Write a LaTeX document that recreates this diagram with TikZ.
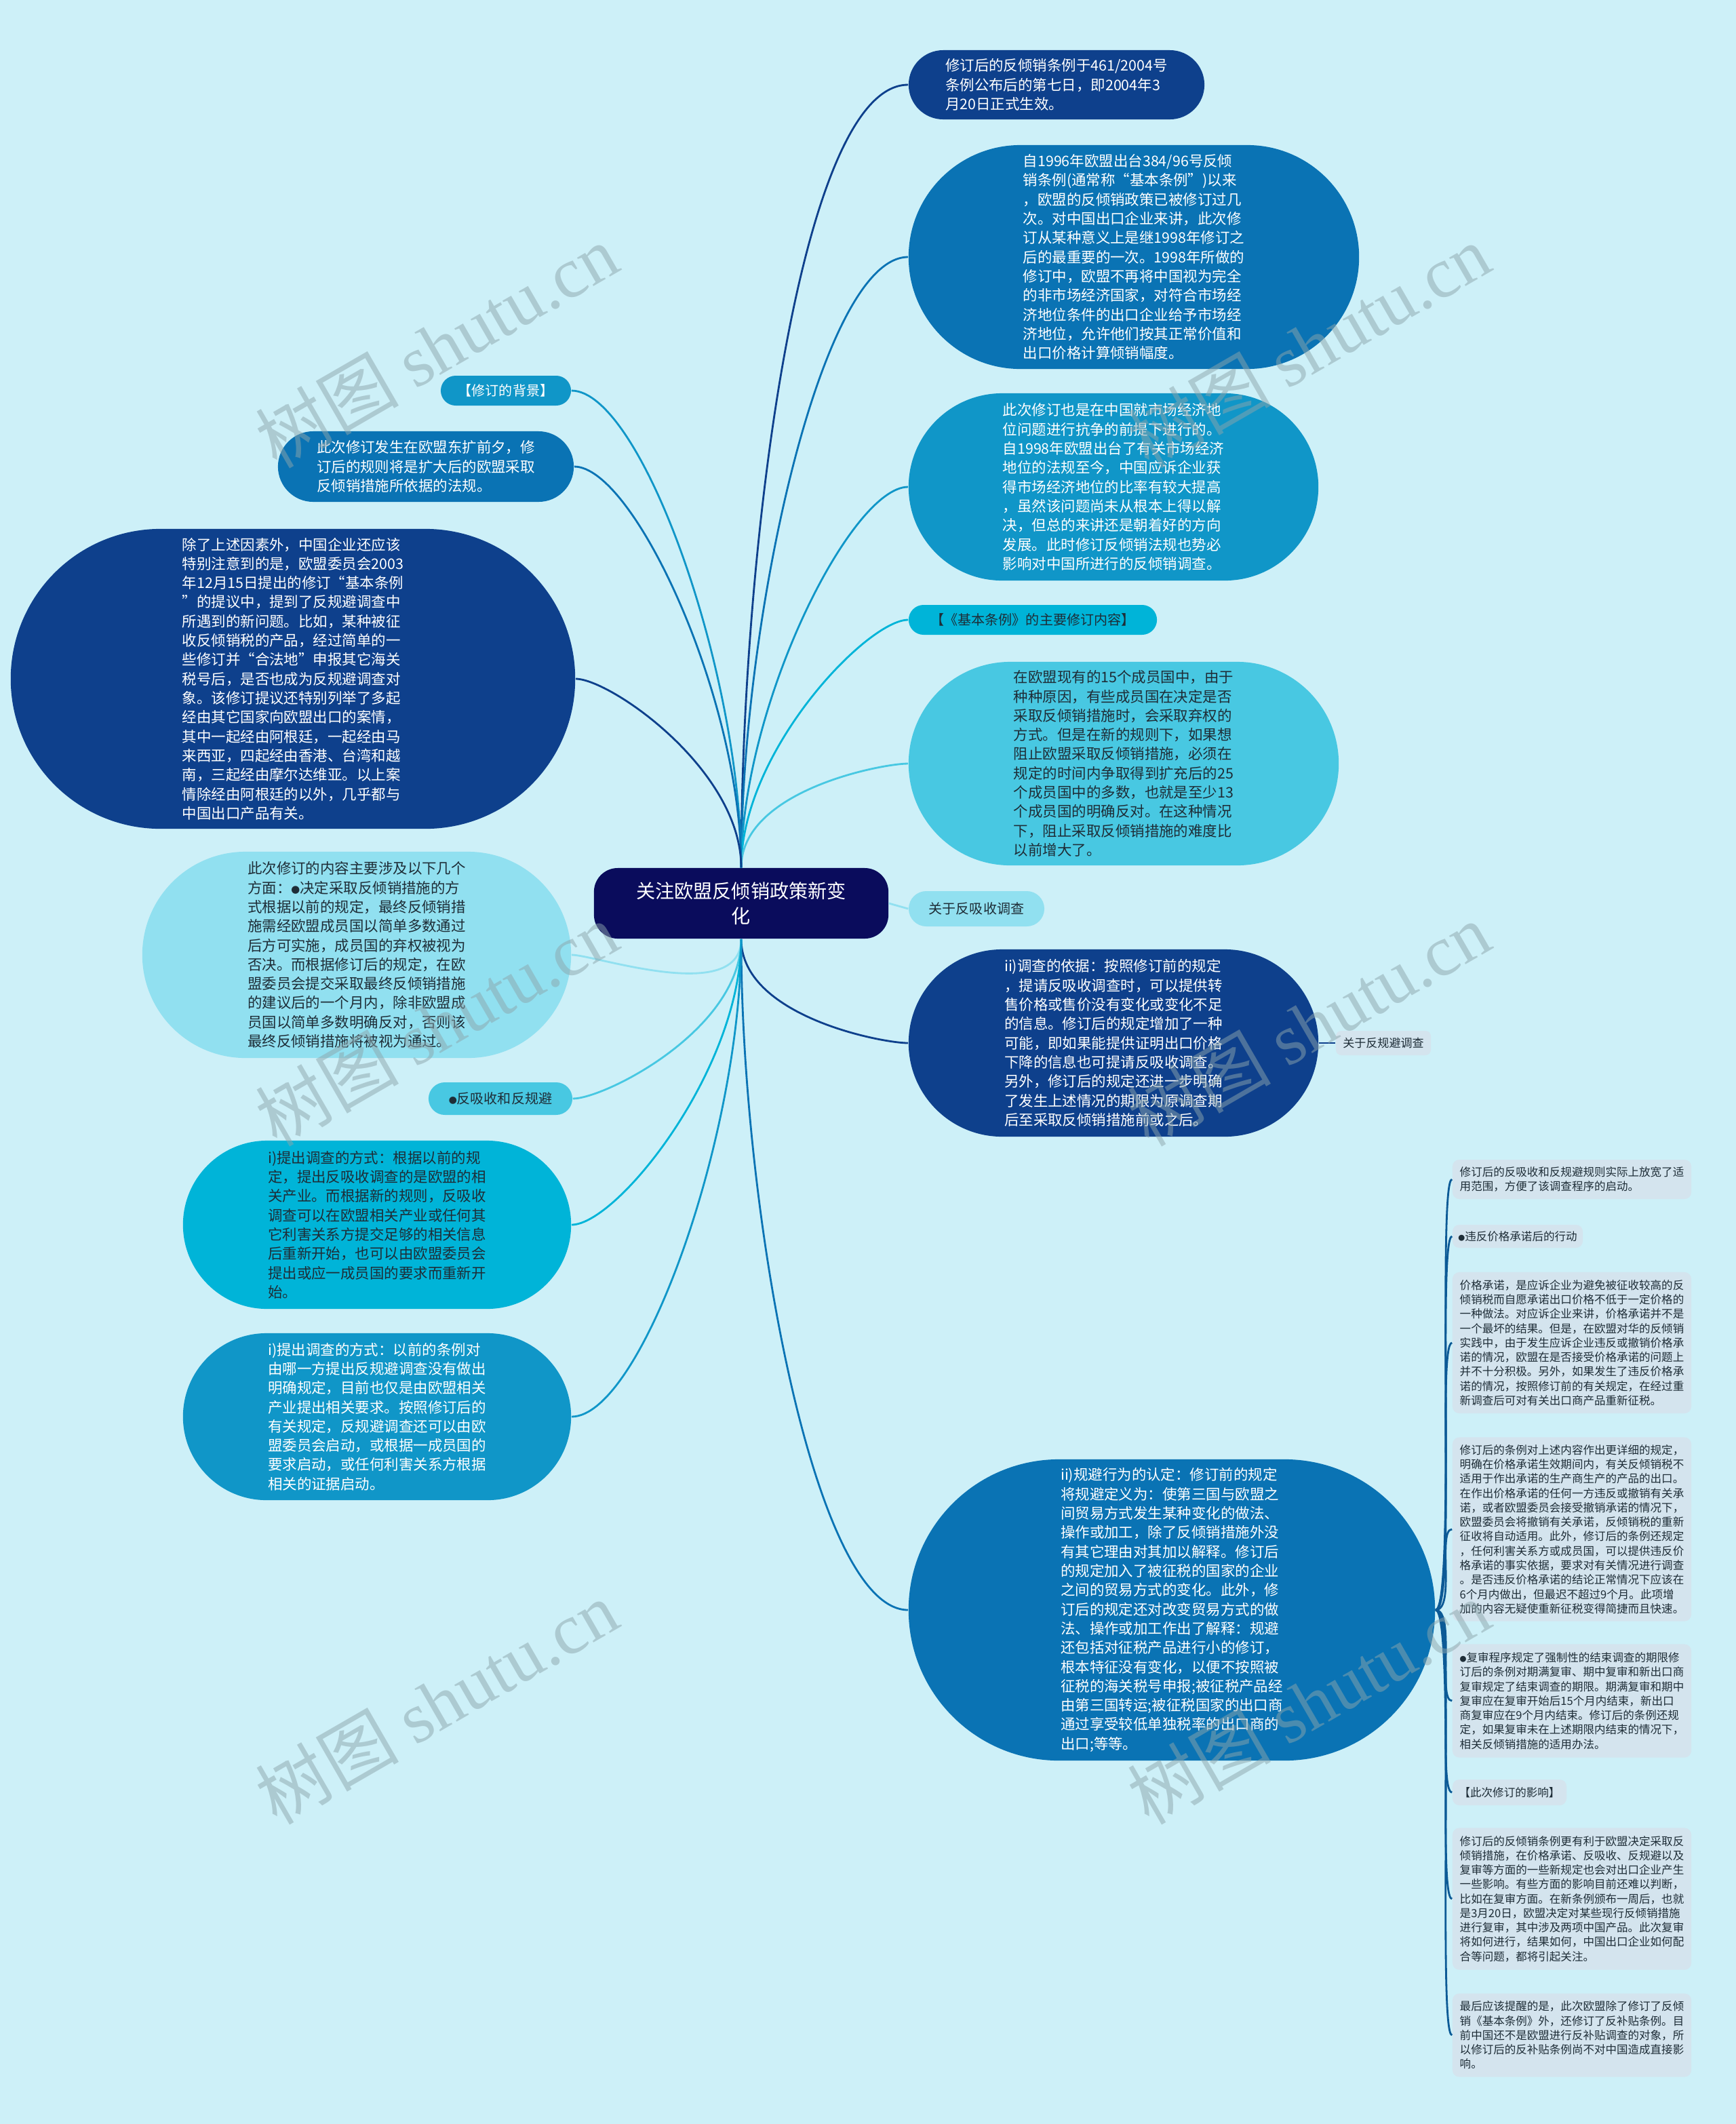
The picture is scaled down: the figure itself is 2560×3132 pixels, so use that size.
\documentclass[tikz,border=0pt]{standalone}
\usepackage{fontspec}
\setmainfont{Noto Sans CJK SC}
\newfontfamily\latinserif{Liberation Serif}
\usepackage{tikz}
\usetikzlibrary{shapes.misc}

\definecolor{bgcyan}{RGB}{205,240,248}
\definecolor{navy}{RGB}{10,12,92}
\definecolor{deepblue}{RGB}{14,64,140}
\definecolor{midblue}{RGB}{10,115,180}
\definecolor{skyblue}{RGB}{16,150,200}
\definecolor{cyanblue}{RGB}{0,180,216}
\definecolor{lightcyan}{RGB}{72,200,226}
\definecolor{palecyan}{RGB}{145,224,240}
\definecolor{notegrey}{RGB}{212,228,238}
\definecolor{inkdark}{RGB}{30,45,55}
\definecolor{spine}{RGB}{12,90,150}
\definecolor{wmgrey}{RGB}{140,165,172}

\newcommand{\txtmain}{\fontsize{6.1}{8.05}\selectfont}
\newcommand{\txttag}{\fontsize{5.7}{7}\selectfont}
\newcommand{\txtnote}{\fontsize{4.7}{6.05}\selectfont}
\newcommand{\txtroot}{\fontsize{8}{10.5}\selectfont}
\newcommand{\dotmark}{\scalebox{0.6}{●}}

\begin{document}
\begin{tikzpicture}[x=0.01cm, y=-0.01cm,
    bubble/.style={rounded rectangle, inner sep=0pt, align=left, font=\txtmain},
    tag/.style={rounded rectangle, inner sep=0pt, align=center, font=\txttag},
    note/.style={rectangle, rounded corners=0.1cm, fill=notegrey, text=inkdark, inner sep=0pt, align=left, font=\txtnote},
    link/.style={line width=0.8pt},
    upright/.style={out=90, in=180, in looseness=0.35},
    upleft/.style={out=90, in=0, in looseness=0.35},
    downright/.style={out=-90, in=180, in looseness=0.35},
    downleft/.style={out=-90, in=0, in looseness=0.35},
    fan/.style={out=0, in=180, out distance=0.3cm, in distance=0.22cm},
    wmark/.style={rotate=30, text=wmgrey, opacity=0.5, font=\fontsize{30}{30}\selectfont},
]
    \useasboundingbox (0,0) rectangle (2560,3132);
    \fill[bgcyan] (0,0) rectangle (2560,3132);

    % Root
    \node[fill=navy, text=white, rounded corners=0.35cm, minimum width=4.34cm, minimum height=1.04cm, align=center, font=\txtroot] (root) at (1093,1332) {关注欧盟反倾销政策新变\\化};

    % Right branches
    \node[bubble, fill=deepblue, text=white, minimum width=4.36cm, minimum height=1.02cm] (r1) at (1558,125) {修订后的反倾销条例于461/2004号\\条例公布后的第七日，即2004年3\\月20日正式生效。};
    \node[bubble, fill=midblue, text=white, minimum width=6.64cm, minimum height=3.3cm] (r2) at (1672,379) {自1996年欧盟出台384/96号反倾\\销条例(通常称“基本条例”)以来\\，欧盟的反倾销政策已被修订过几\\次。对中国出口企业来讲，此次修\\订从某种意义上是继1998年修订之\\后的最重要的一次。1998年所做的\\修订中，欧盟不再将中国视为完全\\的非市场经济国家，对符合市场经\\济地位条件的出口企业给予市场经\\济地位，允许他们按其正常价值和\\出口价格计算倾销幅度。};
    \node[bubble, fill=skyblue, text=white, minimum width=6.04cm, minimum height=2.76cm] (r3) at (1642,718) {此次修订也是在中国就市场经济地\\位问题进行抗争的前提下进行的。\\自1998年欧盟出台了有关市场经济\\地位的法规至今，中国应诉企业获\\得市场经济地位的比率有较大提高\\，虽然该问题尚未从根本上得以解\\决，但总的来讲还是朝着好的方向\\发展。此时修订反倾销法规也势必\\影响对中国所进行的反倾销调查。};
    \node[tag, fill=cyanblue, text=inkdark, minimum width=3.66cm, minimum height=0.44cm] (r4) at (1523,914) {【《基本条例》的主要修订内容】};
    \node[bubble, fill=lightcyan, text=inkdark, minimum width=6.34cm, minimum height=3cm] (r5) at (1657,1126) {在欧盟现有的15个成员国中，由于\\种种原因，有些成员国在决定是否\\采取反倾销措施时，会采取弃权的\\方式。但是在新的规则下，如果想\\阻止欧盟采取反倾销措施，必须在\\规定的时间内争取得到扩充后的25\\个成员国中的多数，也就是至少13\\个成员国的明确反对。在这种情况\\下，阻止采取反倾销措施的难度比\\以前增大了。};
    \node[tag, fill=palecyan, text=inkdark, minimum width=2cm, minimum height=0.52cm] (r6) at (1440,1340) {关于反吸收调查};
    \node[bubble, fill=deepblue, text=white, minimum width=6.04cm, minimum height=2.76cm] (r7) at (1642,1538) {ii)调查的依据：按照修订前的规定\\，提请反吸收调查时，可以提供转\\售价格或售价没有变化或变化不足\\的信息。修订后的规定增加了一种\\可能，即如果能提供证明出口价格\\下降的信息也可提请反吸收调查。\\另外，修订后的规定还进一步明确\\了发生上述情况的期限为原调查期\\后至采取反倾销措施前或之后。};
    \node[note, align=center, rounded corners=0.08cm, font=\fontsize{4.85}{6}\selectfont, minimum width=1.4cm, minimum height=0.36cm] (r7a) at (2040,1538) {关于反规避调查};
    \node[bubble, fill=midblue, text=white, minimum width=7.76cm, minimum height=4.44cm] (r8) at (1728,2374) {ii)规避行为的认定：修订前的规定\\将规避定义为：使第三国与欧盟之\\间贸易方式发生某种变化的做法、\\操作或加工，除了反倾销措施外没\\有其它理由对其加以解释。修订后\\的规定加入了被征税的国家的企业\\之间的贸易方式的变化。此外，修\\订后的规定还对改变贸易方式的做\\法、操作或加工作出了解释：规避\\还包括对征税产品进行小的修订，\\根本特征没有变化，以便不按照被\\征税的海关税号申报;被征税产品经\\由第三国转运;被征税国家的出口商\\通过享受较低单独税率的出口商的\\出口;等等。};

    % Left branches
    \node[tag, fill=skyblue, text=white, minimum width=1.92cm, minimum height=0.44cm] (l1) at (746,576) {【修订的背景】};
    \node[bubble, fill=midblue, text=white, minimum width=4.36cm, minimum height=1.04cm] (l2) at (628,688) {此次修订发生在欧盟东扩前夕，修\\订后的规则将是扩大后的欧盟采取\\反倾销措施所依据的法规。};
    \node[bubble, fill=deepblue, text=white, minimum width=8.32cm, minimum height=4.42cm] (l3) at (432,1001) {除了上述因素外，中国企业还应该\\特别注意到的是，欧盟委员会2003\\年12月15日提出的修订“基本条例\\”的提议中，提到了反规避调查中\\所遇到的新问题。比如，某种被征\\收反倾销税的产品，经过简单的一\\些修订并“合法地”申报其它海关\\税号后，是否也成为反规避调查对\\象。该修订提议还特别列举了多起\\经由其它国家向欧盟出口的案情，\\其中一起经由阿根廷，一起经由马\\来西亚，四起经由香港、台湾和越\\南，三起经由摩尔达维亚。以上案\\情除经由阿根廷的以外，几乎都与\\中国出口产品有关。};
    \node[bubble, fill=palecyan, text=inkdark, minimum width=6.32cm, minimum height=3.04cm] (l4) at (526,1408) {此次修订的内容主要涉及以下几个\\方面：\dotmark 决定采取反倾销措施的方\\式根据以前的规定，最终反倾销措\\施需经欧盟成员国以简单多数通过\\后方可实施，成员国的弃权被视为\\否决。而根据修订后的规定，在欧\\盟委员会提交采取最终反倾销措施\\的建议后的一个月内，除非欧盟成\\员国以简单多数明确反对，否则该\\最终反倾销措施将被视为通过。};
    \node[tag, fill=lightcyan, text=inkdark, minimum width=2.12cm, minimum height=0.48cm] (l5) at (738,1620) {\dotmark 反吸收和反规避};
    \node[bubble, fill=cyanblue, text=inkdark, minimum width=5.72cm, minimum height=2.48cm] (l6) at (556,1806) {i)提出调查的方式：根据以前的规\\定，提出反吸收调查的是欧盟的相\\关产业。而根据新的规则，反吸收\\调查可以在欧盟相关产业或任何其\\它利害关系方提交足够的相关信息\\后重新开始，也可以由欧盟委员会\\提出或应一成员国的要求而重新开\\始。};
    \node[bubble, fill=skyblue, text=white, minimum width=5.72cm, minimum height=2.46cm] (l7) at (556,2089) {i)提出调查的方式：以前的条例对\\由哪一方提出反规避调查没有做出\\明确规定，目前也仅是由欧盟相关\\产业提出相关要求。按照修订后的\\有关规定，反规避调查还可以由欧\\盟委员会启动，或根据一成员国的\\要求启动，或任何利害关系方根据\\相关的证据启动。};

    % Notes under ii)
    \node[note, minimum width=3.52cm, minimum height=0.58cm] (f1) at (2318,1739) {修订后的反吸收和反规避规则实际上放宽了适\\用范围，方便了该调查程序的启动。};
    \node[note, minimum width=1.92cm, minimum height=0.34cm] (f2) at (2238,1823) {\dotmark 违反价格承诺后的行动};
    \node[note, minimum width=3.52cm, minimum height=2.08cm] (f3) at (2318,1980) {价格承诺，是应诉企业为避免被征收较高的反\\倾销税而自愿承诺出口价格不低于一定价格的\\一种做法。对应诉企业来讲，价格承诺并不是\\一个最坏的结果。但是，在欧盟对华的反倾销\\实践中，由于发生应诉企业违反或撤销价格承\\诺的情况，欧盟在是否接受价格承诺的问题上\\并不十分积极。另外，如果发生了违反价格承\\诺的情况，按照修订前的有关规定，在经过重\\新调查后可对有关出口商产品重新征税。};
    \node[note, minimum width=3.52cm, minimum height=2.71cm] (f4) at (2318,2255) {修订后的条例对上述内容作出更详细的规定，\\明确在价格承诺生效期间内，有关反倾销税不\\适用于作出承诺的生产商生产的产品的出口。\\在作出价格承诺的任何一方违反或撤销有关承\\诺，或者欧盟委员会接受撤销承诺的情况下，\\欧盟委员会将撤销有关承诺，反倾销税的重新\\征收将自动适用。此外，修订后的条例还规定\\，任何利害关系方或成员国，可以提供违反价\\格承诺的事实依据，要求对有关情况进行调查\\。是否违反价格承诺的结论正常情况下应该在\\6个月内做出，但最迟不超过9个月。此项增\\加的内容无疑使重新征税变得简捷而且快速。};
    \node[note, minimum width=3.52cm, minimum height=1.67cm] (f5) at (2318,2508) {\dotmark 复审程序规定了强制性的结束调查的期限修\\订后的条例对期满复审、期中复审和新出口商\\复审规定了结束调查的期限。期满复审和期中\\复审应在复审开始后15个月内结束，新出口\\商复审应在9个月内结束。修订后的条例还规\\定，如果复审未在上述期限内结束的情况下，\\相关反倾销措施的适用办法。};
    \node[note, minimum width=1.68cm, minimum height=0.38cm] (f6) at (2226,2643) {【此次修订的影响】};
    \node[note, minimum width=3.52cm, minimum height=2.09cm] (f7) at (2318,2800) {修订后的反倾销条例更有利于欧盟决定采取反\\倾销措施，在价格承诺、反吸收、反规避以及\\复审等方面的一些新规定也会对出口企业产生\\一些影响。有些方面的影响目前还难以判断，\\比如在复审方面。在新条例颁布一周后，也就\\是3月20日，欧盟决定对某些现行反倾销措施\\进行复审，其中涉及两项中国产品。此次复审\\将如何进行，结果如何，中国出口企业如何配\\合等问题，都将引起关注。};
    \node[note, minimum width=3.52cm, minimum height=1.23cm] (f8) at (2318,3001) {最后应该提醒的是，此次欧盟除了修订了反倾\\销《基本条例》外，还修订了反补贴条例。目\\前中国还不是欧盟进行反补贴调查的对象，所\\以修订后的反补贴条例尚不对中国造成直接影\\响。};

    % Connectors
    \draw[link, deepblue] (root.north) to[upright] (r1.west);
    \draw[link, midblue] (root.north) to[upright] (r2.west);
    \draw[link, skyblue] (root.north) to[upright] (r3.west);
    \draw[link, cyanblue] (root.north) to[upright] (r4.west);
    \draw[link, lightcyan] (root.north) to[upright] (r5.west);
    \draw[link, palecyan] (root.east) -- (r6.west);
    \draw[link, deepblue] (root.south) to[downright] (r7.west);
    \draw[link, deepblue] (r7.east) -- (r7a.west);
    \draw[link, midblue] (root.south) to[downright] (r8.west);
    \draw[link, skyblue] (root.north) to[upleft] (l1.east);
    \draw[link, midblue] (root.north) to[upleft] (l2.east);
    \draw[link, deepblue] (root.north) to[upleft] (l3.east);
    \draw[link, palecyan] (root.south) to[downleft] (l4.east);
    \draw[link, lightcyan] (root.south) to[downleft] (l5.east);
    \draw[link, cyanblue] (root.south) to[downleft] (l6.east);
    \draw[link, skyblue] (root.south) to[downleft] (l7.east);
    \draw[link, spine] (r8.east) to[fan] (f1.west);
    \draw[link, spine] (r8.east) to[fan] (f2.west);
    \draw[link, spine] (r8.east) to[fan] (f3.west);
    \draw[link, spine] (r8.east) to[fan] (f4.west);
    \draw[link, spine] (r8.east) to[fan] (f5.west);
    \draw[link, spine] (r8.east) to[fan] (f6.west);
    \draw[link, spine] (r8.east) to[fan] (f7.west);
    \draw[link, spine] (r8.east) to[fan] (f8.west);

    % Watermarks
    \node[wmark] (wm1) at (644,510) {树图 {\latinserif shutu.cn}};
    \node[wmark] (wm2) at (1930,510) {树图 {\latinserif shutu.cn}};
    \node[wmark] (wm3) at (644,1510) {树图 {\latinserif shutu.cn}};
    \node[wmark] (wm4) at (1930,1510) {树图 {\latinserif shutu.cn}};
    \node[wmark] (wm5) at (644,2510) {树图 {\latinserif shutu.cn}};
    \node[wmark] (wm6) at (1930,2510) {树图 {\latinserif shutu.cn}};
\end{tikzpicture}
\end{document}
